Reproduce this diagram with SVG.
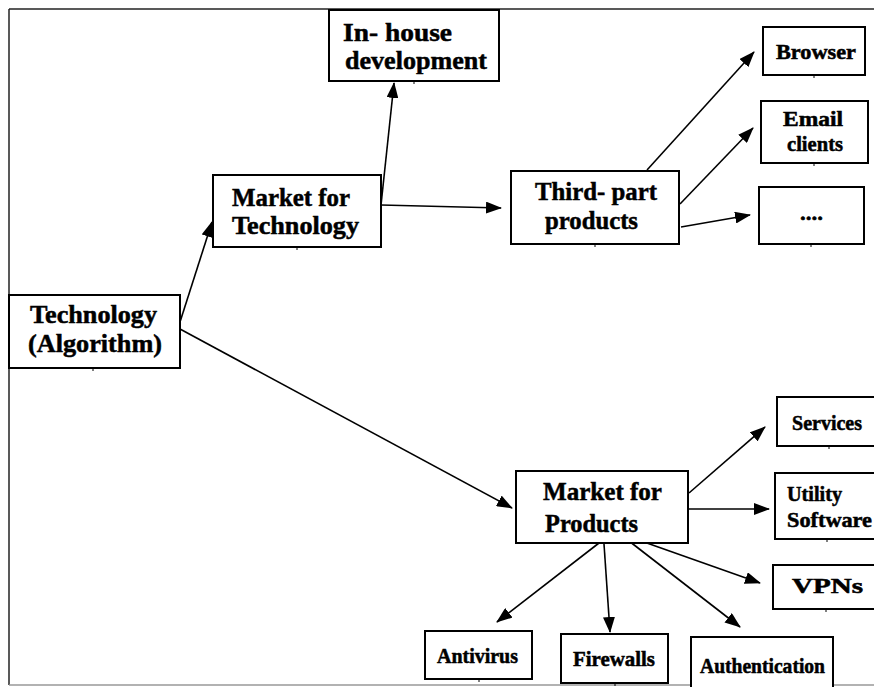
<svg xmlns="http://www.w3.org/2000/svg" width="874" height="687" viewBox="0 0 874 687">
<style>
.box{fill:#fff;stroke:#000;stroke-width:2}
.t{font-family:"Liberation Serif","Times New Roman",serif;font-weight:bold;fill:#000;stroke:#000;stroke-width:0.5}
.L{font-size:26px}
.S{font-size:20px}
.c{stroke:#000;stroke-width:1.6;fill:none}
.tick{stroke:#000;stroke-width:1}
</style>
<defs>
<marker id="ah" markerUnits="userSpaceOnUse" markerWidth="16" markerHeight="12" refX="15" refY="6" orient="auto">
<path d="M0,0 L16,6 L0,12 Z" fill="#000"/>
</marker>
</defs>
<rect x="0" y="0" width="874" height="687" fill="#fff"/>
<g id="frame">
<line x1="9" y1="9" x2="874" y2="9" stroke="#222" stroke-width="1.5"/>
<line x1="9" y1="9" x2="9" y2="685" stroke="#222" stroke-width="1.5"/>
<line x1="9" y1="685" x2="874" y2="685" stroke="#999" stroke-width="1.5"/>
</g>
<g id="connectors">
<line class="c" x1="180" y1="322" x2="212" y2="222" marker-end="url(#ah)"/>
<line class="c" x1="180" y1="329" x2="512" y2="508" marker-end="url(#ah)"/>
<line class="c" x1="381" y1="205" x2="394" y2="83" marker-end="url(#ah)"/>
<line class="c" x1="381" y1="205" x2="501" y2="208" marker-end="url(#ah)"/>
<line class="c" x1="647" y1="170" x2="754" y2="52" marker-end="url(#ah)"/>
<line class="c" x1="680" y1="204" x2="753" y2="128" marker-end="url(#ah)"/>
<line class="c" x1="681" y1="227" x2="750" y2="215" marker-end="url(#ah)"/>
<line class="c" x1="689" y1="493" x2="765" y2="427" marker-end="url(#ah)"/>
<line class="c" x1="688" y1="509" x2="769" y2="509" marker-end="url(#ah)"/>
<line class="c" x1="644" y1="542" x2="760" y2="583" marker-end="url(#ah)"/>
<line class="c" x1="629" y1="541" x2="740" y2="627" marker-end="url(#ah)"/>
<line class="c" x1="604" y1="544" x2="610" y2="632" marker-end="url(#ah)"/>
<line class="c" x1="599" y1="543" x2="497" y2="622" marker-end="url(#ah)"/>
</g>
<g id="n-technology">
<rect class="box" x="9" y="295" width="171" height="73"/>
<line class="tick" x1="93" y1="368" x2="93" y2="371"/>
<text class="t L" x="30" y="323" textLength="127" lengthAdjust="spacingAndGlyphs">Technology</text>
<text class="t L" x="28" y="352" textLength="134" lengthAdjust="spacingAndGlyphs">(Algorithm)</text>
</g>
<g id="n-market-tech">
<rect class="box" x="213" y="175" width="168" height="72"/>
<line class="tick" x1="297" y1="247" x2="297" y2="250"/>
<text class="t L" x="232" y="206" textLength="118" lengthAdjust="spacingAndGlyphs">Market for</text>
<text class="t L" x="232" y="234" textLength="127" lengthAdjust="spacingAndGlyphs">Technology</text>
</g>
<g id="n-inhouse">
<rect class="box" x="329" y="10" width="170" height="71"/>
<line class="tick" x1="414" y1="81" x2="414" y2="84"/>
<text class="t L" x="343" y="41" textLength="109" lengthAdjust="spacingAndGlyphs">In- house</text>
<text class="t L" x="345" y="69" textLength="142" lengthAdjust="spacingAndGlyphs">development</text>
</g>
<g id="n-thirdpart">
<rect class="box" x="511" y="171" width="168" height="73"/>
<line class="tick" x1="595" y1="244" x2="595" y2="247"/>
<text class="t L" x="535" y="200" textLength="122" lengthAdjust="spacingAndGlyphs">Third- part</text>
<text class="t L" x="545" y="229" textLength="93" lengthAdjust="spacingAndGlyphs">products</text>
</g>
<g id="n-browser">
<rect class="box" x="763" y="27" width="102" height="48"/>
<line class="tick" x1="814" y1="75" x2="814" y2="78"/>
<text class="t S" x="776" y="59" textLength="80" lengthAdjust="spacingAndGlyphs">Browser</text>
</g>
<g id="n-email">
<rect class="box" x="761" y="101" width="107" height="62"/>
<line class="tick" x1="814" y1="163" x2="814" y2="166"/>
<text class="t S" x="783" y="126" textLength="60" lengthAdjust="spacingAndGlyphs">Email</text>
<text class="t S" x="787" y="151" textLength="56" lengthAdjust="spacingAndGlyphs">clients</text>
</g>
<g id="n-more">
<rect class="box" x="759" y="187" width="105" height="57"/>
<line class="tick" x1="811" y1="244" x2="811" y2="247"/>
<text class="t S" x="800" y="220" textLength="23" lengthAdjust="spacingAndGlyphs">....</text>
</g>
<g id="n-market-prod">
<rect class="box" x="516" y="471" width="172" height="72"/>
<text class="t L" x="543" y="500" textLength="119" lengthAdjust="spacingAndGlyphs">Market for</text>
<text class="t L" x="545" y="532" textLength="93" lengthAdjust="spacingAndGlyphs">Products</text>
</g>
<g id="n-services">
<rect class="box" x="777" y="397" width="110" height="49"/>
<line class="tick" x1="829" y1="446" x2="829" y2="449"/>
<text class="t S" x="792" y="430" textLength="70" lengthAdjust="spacingAndGlyphs">Services</text>
</g>
<g id="n-utility">
<rect class="box" x="775" y="473" width="112" height="66"/>
<line class="tick" x1="827" y1="539" x2="827" y2="542"/>
<text class="t S" x="787" y="501" textLength="55" lengthAdjust="spacingAndGlyphs">Utility</text>
<text class="t S" x="787" y="527" textLength="85" lengthAdjust="spacingAndGlyphs">Software</text>
</g>
<g id="n-vpns">
<rect class="box" x="773" y="565" width="114" height="44"/>
<line class="tick" x1="826" y1="609" x2="826" y2="612"/>
<text class="t S" x="792" y="593" textLength="71" lengthAdjust="spacingAndGlyphs">VPNs</text>
</g>
<g id="n-antivirus">
<rect class="box" x="425" y="631" width="107" height="48"/>
<line class="tick" x1="479" y1="679" x2="479" y2="682"/>
<text class="t S" x="437" y="663" textLength="81" lengthAdjust="spacingAndGlyphs">Antivirus</text>
</g>
<g id="n-firewalls">
<rect class="box" x="561" y="634" width="107" height="49"/>
<line class="tick" x1="615" y1="683" x2="615" y2="686"/>
<text class="t S" x="573" y="666" textLength="82" lengthAdjust="spacingAndGlyphs">Firewalls</text>
</g>
<g id="n-auth">
<rect class="box" x="691" y="637" width="142" height="60"/>
<text class="t S" x="700" y="673" textLength="125" lengthAdjust="spacingAndGlyphs">Authentication</text>
</g>
</svg>
